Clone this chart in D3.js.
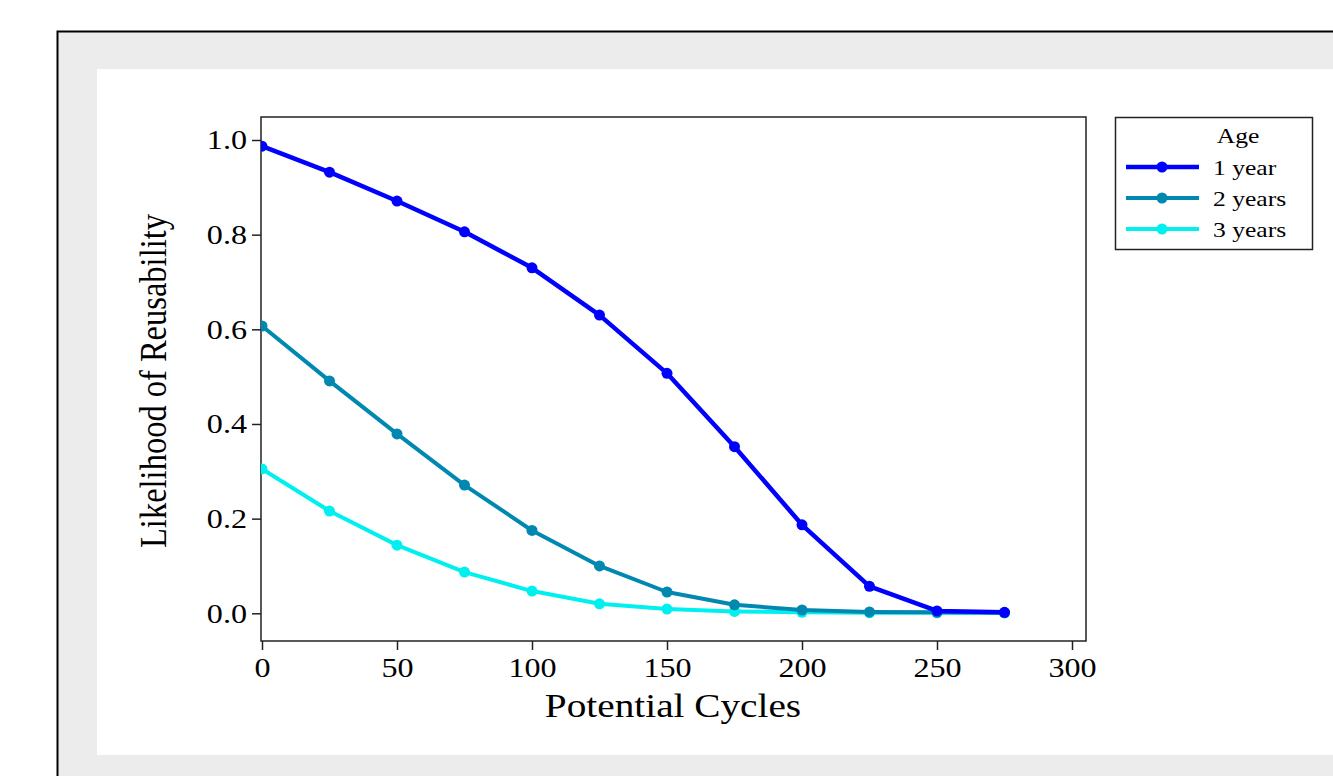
<!DOCTYPE html>
<html>
<head>
<meta charset="utf-8">
<script src="https://cdn.jsdelivr.net/npm/d3@7"></script>
<style>
  html, body { margin: 0; padding: 0; background: #fff; overflow: hidden; }
  text { font-family: "Liberation Serif", "Times New Roman", serif; fill: #000; }
</style>
</head>
<body>
<div id="chart"></div>
<script>
// data
const cycles = [0, 25, 50, 75, 100, 125, 150, 175, 200, 225, 250, 275];
const year1 = [0.987, 0.932, 0.871, 0.806, 0.730, 0.630, 0.507, 0.352, 0.187, 0.057, 0.005, 0.002];
const year2 = [0.607, 0.491, 0.379, 0.271, 0.175, 0.100, 0.045, 0.018, 0.007, 0.003, 0.002, 0.001];
const year3 = [0.305, 0.216, 0.144, 0.087, 0.047, 0.020, 0.009, 0.004, 0.002, 0.001, 0.001, 0.001];
const seriesNames = ["1 year", "2 years", "3 years"];
const xTicks = [0, 50, 100, 150, 200, 250, 300];
const yTicks = [0.0, 0.2, 0.4, 0.6, 0.8, 1.0];

const colors = ["#0000ff", "#0088b0", "#00f0f0"];
const widths = [4.5, 4, 4];
const stretch = 1.19; // the text in the original is a bit wide

const W = 1333, H = 776;
const svg = d3.select("#chart").append("svg").attr("width", W).attr("height", H);

// background frame
svg.append("rect").attr("x", 57.5).attr("y", 31.5).attr("width", 1300).attr("height", 800)
  .attr("fill", "#ececec").attr("stroke", "#000").attr("stroke-width", 2);
svg.append("rect").attr("x", 97).attr("y", 69).attr("width", 1300).attr("height", 686)
  .attr("fill", "#fff");

// plot area
const plot = { left: 261, top: 117, right: 1086, bottom: 641 };
const x = d3.scaleLinear().domain([0, 300]).range([262, 1072]);
const y = d3.scaleLinear().domain([0, 1]).range([613.3, 140]);

const g = svg.append("g");

const xAxis = g.append("g")
  .attr("transform", `translate(0,${plot.bottom})`)
  .call(d3.axisBottom(x).tickValues(xTicks).tickSize(9).tickPadding(3).tickFormat(d3.format("d")));
const yAxis = g.append("g")
  .attr("transform", `translate(${plot.left},0)`)
  .call(d3.axisLeft(y).tickValues(yTicks).tickSize(9).tickPadding(3).tickFormat(d3.format(".1f")));

[xAxis, yAxis].forEach(a => {
  a.select(".domain").remove();
  a.selectAll("line").attr("stroke", "#222").attr("stroke-width", 1.5);
  a.selectAll("text").style("font-size", "27px").attr("fill", "#000")
    .attr("transform", `scale(${stretch},1)`);
});
xAxis.selectAll("text").attr("dy", "0.9em");
yAxis.selectAll("text").attr("x", -14 / stretch).attr("dy", "0.33em");

g.append("rect")
  .attr("x", plot.left).attr("y", plot.top)
  .attr("width", plot.right - plot.left).attr("height", plot.bottom - plot.top)
  .attr("fill", "none").attr("stroke", "#222").attr("stroke-width", 1.5);

// axis titles
svg.append("text")
  .attr("transform", `translate(673,717) scale(${stretch},1)`)
  .attr("text-anchor", "middle")
  .style("font-size", "33px").text("Potential Cycles");
svg.append("text")
  .attr("transform", `translate(166,381) rotate(-90) scale(1,${stretch})`)
  .attr("text-anchor", "middle").style("font-size", "32.5px")
  .text("Likelihood of Reusability");

// lines
const allSeries = [year1, year2, year3];
const line = d3.line().x((d, i) => x(cycles[i])).y(d => y(d));

svg.append("clipPath").attr("id", "clip").append("rect")
  .attr("x", plot.left).attr("y", plot.top)
  .attr("width", plot.right - plot.left).attr("height", plot.bottom - plot.top);

const lines = g.append("g").attr("clip-path", "url(#clip)");
[2, 1, 0].forEach(k => {
  const s = lines.append("g");
  s.append("path").datum(allSeries[k]).attr("d", line)
    .attr("fill", "none").attr("stroke", colors[k]).attr("stroke-width", widths[k])
    .attr("stroke-linejoin", "round");
  s.selectAll("circle").data(allSeries[k]).join("circle")
    .attr("cx", (d, i) => x(cycles[i])).attr("cy", d => y(d))
    .attr("r", 5.5).attr("fill", colors[k]);
});

// legend
const leg = svg.append("g");
leg.append("rect").attr("x", 1115.5).attr("y", 117.5).attr("width", 197).attr("height", 132)
  .attr("fill", "#fff").attr("stroke", "#222").attr("stroke-width", 1.5);
leg.append("text")
  .attr("transform", `translate(1238,143) scale(${stretch},1)`)
  .attr("text-anchor", "middle")
  .style("font-size", "21.5px").text("Age");
seriesNames.forEach((name, k) => {
  const yy = 167 + k * 31;
  leg.append("line").attr("x1", 1126).attr("x2", 1199).attr("y1", yy).attr("y2", yy)
    .attr("stroke", colors[k]).attr("stroke-width", widths[k]);
  leg.append("circle").attr("cx", 1162).attr("cy", yy).attr("r", 5.5).attr("fill", colors[k]);
  leg.append("text")
    .attr("transform", `translate(1213,${yy}) scale(${stretch},1)`)
    .attr("dy", "0.35em")
    .style("font-size", "21.5px").text(name);
});
</script>
</body>
</html>
